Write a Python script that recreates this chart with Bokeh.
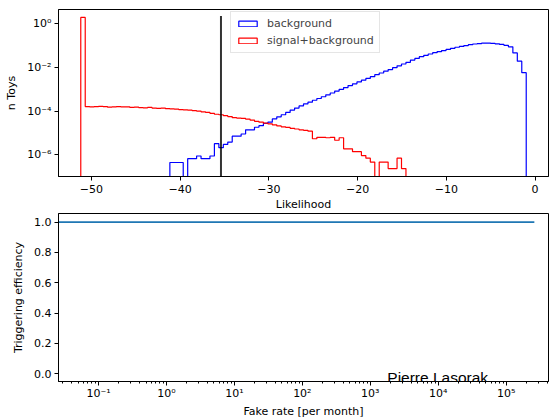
import numpy as np
from bokeh.plotting import figure
from bokeh.layouts import column
from bokeh.models import (FixedTicker, CustomJSTickFormatter, Legend, LegendItem,
                          Label, Range1d, Title)
from bokeh.embed import file_html
from bokeh.resources import INLINE

# ---------------- data ----------------
hist_lo, hist_hi, n_bins = -51.2, -1.0, 100

background = [
    0, 0, 0, 0, 0, 0, 0, 0, 0, 0,
    0, 0, 0, 0, 0, 0, 0, 0, 0, 0,
    4.4e-7, 4.4e-7, 4.4e-7, 0, 6.6e-7, 6.6e-7, 8.7e-7, 6.6e-7, 6.6e-7, 8.7e-7,
    3.2e-6, 2.1e-6, 2.95e-6, 3.8e-6, 7.1e-6, 7.1e-6, 8.9e-6, 1.38e-5, 1.38e-5, 1.82e-5,
    2.14e-5, 2.75e-5, 3.1e-5, 4.4e-5, 5.5e-5, 6.8e-5, 8.7e-5, 1.12e-4, 1.38e-4, 1.74e-4,
    2.14e-4, 2.57e-4, 3.16e-4, 3.8e-4, 4.57e-4, 5.6e-4, 6.8e-4, 8.3e-4, 1.0e-3, 1.2e-3,
    1.48e-3, 1.78e-3, 2.19e-3, 2.63e-3, 3.16e-3, 3.8e-3, 4.68e-3, 5.6e-3, 6.8e-3, 8.1e-3,
    9.8e-3, 1.2e-2, 1.45e-2, 1.74e-2, 2.19e-2, 2.63e-2, 3.16e-2, 3.63e-2, 4.17e-2, 4.79e-2,
    5.37e-2, 6.03e-2, 6.76e-2, 7.59e-2, 8.51e-2, 9.33e-2, 0.102, 0.112, 0.120, 0.126,
    0.132, 0.132, 0.129, 0.123, 0.115, 0.105, 0.089, 0.047, 0.0195, 0.0058,
]

signal_background = [
    2.0, 1.62e-4, 1.58e-4, 1.62e-4, 1.66e-4, 1.62e-4, 1.51e-4, 1.58e-4, 1.62e-4, 1.55e-4,
    1.58e-4, 1.48e-4, 1.51e-4, 1.45e-4, 1.41e-4, 1.48e-4, 1.38e-4, 1.35e-4, 1.38e-4, 1.29e-4,
    1.26e-4, 1.23e-4, 1.17e-4, 1.15e-4, 1.10e-4, 1.05e-4, 1.0e-4, 9.3e-5, 8.7e-5, 7.9e-5,
    7.2e-5, 6.8e-5, 6.2e-5, 5.6e-5, 5.0e-5, 4.8e-5, 4.6e-5, 4.3e-5, 3.9e-5, 3.4e-5,
    3.1e-5, 2.8e-5, 2.6e-5, 2.35e-5, 2.1e-5, 1.9e-5, 1.78e-5, 1.62e-5, 1.51e-5, 1.38e-5,
    1.32e-5, 1.2e-5, 5.4e-6, 6.3e-6, 6.3e-6, 6.0e-6, 6.3e-6, 4.6e-6, 6.0e-6, 1.86e-6,
    1.86e-6, 1.38e-6, 1.38e-6, 9.1e-7, 6.9e-7, 4.6e-7, 0, 4.6e-7, 4.6e-7, 2.3e-7,
    2.3e-7, 6.9e-7, 2.3e-7, 0, 0, 0, 0, 0, 0, 0,
    0, 0, 0, 0, 0, 0, 0, 0, 0, 0,
    0, 0, 0, 0, 0, 0, 0, 0, 0, 0,
]

threshold = -35.4
threshold_top = 2.3

fake_rate = [0.01, 0.1, 1.0, 10.0, 100.0, 1000.0, 1.0e4, 1.0e5, 2.6e5]
efficiency = [1.0, 1.0, 1.0, 1.0, 1.0, 1.0, 1.0, 1.0, 1.0]

lik_ticks = [-50, -40, -30, -20, -10, 0]
lik_labels = ["\u221250", "\u221240", "\u221230", "\u221220", "\u221210", "0"]
toy_ticks = [1e-6, 1e-4, 1e-2, 1.0]
toy_labels = ["10\u207b\u2076", "10\u207b\u2074", "10\u207b\u00b2", "10\u2070"]
eff_ticks = [0.0, 0.2, 0.4, 0.6, 0.8, 1.0]
eff_labels = ["0.0", "0.2", "0.4", "0.6", "0.8", "1.0"]
rate_ticks = [1e-1, 1e0, 1e1, 1e2, 1e3, 1e4, 1e5]
rate_labels = ["10\u207b\u00b9", "10\u2070", "10\u00b9", "10\u00b2", "10\u00b3", "10\u2074", "10\u2075"]

# ---------------- helpers ----------------
FONT = "DejaVu Sans"
floor = 1e-12
nan = float("nan")
edges = np.linspace(hist_lo, hist_hi, n_bins + 1)


def step_path(vals):
    xs = [edges[0]]
    ys = [floor]
    for k, v in enumerate(vals):
        y = v if v > 0 else floor
        xs += [edges[k], edges[k + 1]]
        ys += [y, y]
    xs.append(edges[-1])
    ys.append(floor)
    return xs, ys


def fmt(vals, labs, log=False):
    if log:
        code = """
        for (let i = 0; i < vals.length; i++) {
            if (Math.abs(Math.log10(vals[i]) - Math.log10(tick)) < 1e-6) return labs[i];
        }
        return "";
        """
    else:
        code = """
        for (let i = 0; i < vals.length; i++) {
            if (Math.abs(vals[i] - tick) < 1e-9) return labs[i];
        }
        return "";
        """
    return CustomJSTickFormatter(args=dict(vals=vals, labs=labs), code=code)


def style(p):
    p.xgrid.visible = False
    p.ygrid.visible = False
    p.outline_line_color = "black"
    p.outline_line_width = 1
    p.background_fill_color = "white"
    p.border_fill_color = "white"
    for ax in p.axis:
        ax.major_label_text_font = FONT
        ax.major_label_text_font_size = "11px"
        ax.major_label_text_color = "black"
        ax.axis_label_text_font = FONT
        ax.axis_label_text_font_size = "11px"
        ax.axis_label_text_font_style = "normal"
        ax.axis_label_text_color = "black"
        ax.axis_line_color = "black"
        ax.major_tick_line_color = "black"
        ax.minor_tick_line_color = "black"
        ax.major_tick_out = 4
        ax.major_tick_in = 0
        ax.minor_tick_out = 2
        ax.minor_tick_in = 0


# ---------------- top panel ----------------
p1 = figure(width=552, height=213, x_range=Range1d(-53.71, 1.51),
            y_range=Range1d(1.0e-7, 4.6), y_axis_type="log",
            output_backend="svg", toolbar_location=None,
            min_border_left=58, min_border_right=4, min_border_top=9,
            min_border_bottom=35)
style(p1)

bx, by = step_path(background)
sx, sy = step_path(signal_background)
p1.line(bx, by, line_color="blue", line_width=1.2)
p1.line(sx, sy, line_color="red", line_width=1.2)
p1.line([threshold, threshold], [floor, threshold_top], line_color="black",
        line_alpha=0.8, line_width=2)

r_b = p1.quad(left=[nan], right=[nan], top=[nan], bottom=[nan], fill_color=None,
              line_color="blue", line_width=1.2)
r_s = p1.quad(left=[nan], right=[nan], top=[nan], bottom=[nan], fill_color=None,
              line_color="red", line_width=1.2)
legend = Legend(items=[LegendItem(label="background", renderers=[r_b]),
                       LegendItem(label="signal+background", renderers=[r_s])],
                location=(172, 123), margin=0, padding=5, spacing=4,
                glyph_width=23, glyph_height=7, label_height=13,
                label_standoff=8, label_text_font=FONT,
                label_text_font_size="11px", border_line_color="#cccccc",
                border_line_width=1, background_fill_alpha=0.8)
p1.add_layout(legend)

p1.xaxis.ticker = FixedTicker(ticks=lik_ticks, minor_ticks=[])
p1.xaxis.formatter = fmt(lik_ticks, lik_labels)
p1.yaxis.ticker = FixedTicker(ticks=toy_ticks, minor_ticks=[])
p1.yaxis.formatter = fmt(toy_ticks, toy_labels, log=True)
p1.xaxis.axis_label = "Likelihood"
p1.yaxis.axis_label = "n Toys"
p1.xaxis.major_label_standoff = 4
p1.xaxis.axis_label_standoff = 2
p1.yaxis.major_label_standoff = 3
p1.yaxis.axis_label_standoff = 6

# ---------------- bottom panel ----------------
p2 = figure(width=552, height=204, x_axis_type="log",
            x_range=Range1d(0.02576, 4.2e5), y_range=Range1d(-0.052, 1.057),
            output_backend="svg", toolbar_location=None,
            min_border_left=58, min_border_right=4, min_border_top=0,
            min_border_bottom=35)
style(p2)
p2.line(fake_rate, efficiency, line_color="#1f77b4", line_width=1.7)

minor = [m * 10.0 ** e for e in range(-2, 6) for m in range(2, 10)]
p2.xaxis.ticker = FixedTicker(ticks=rate_ticks, minor_ticks=minor)
p2.xaxis.formatter = fmt(rate_ticks, rate_labels, log=True)
p2.yaxis.ticker = FixedTicker(ticks=eff_ticks, minor_ticks=[])
p2.yaxis.formatter = fmt(eff_ticks, eff_labels)
p2.yaxis.axis_label = "Triggering efficiency"
p2.xaxis.major_label_standoff = 1
p2.yaxis.major_label_standoff = 3
p2.yaxis.axis_label_standoff = 6

# x-axis title as a compact panel below the tick labels
p2.add_layout(Title(text="Fake rate [per month]", align="center",
                    text_font=FONT, text_font_size="11px",
                    text_font_style="normal", text_color="black",
                    standoff=0, offset=0), "below")

p2.add_layout(Label(x=1780, y=-0.027, text="Pierre Lasorak",
                    text_font="Liberation Sans", text_font_size="15.5px",
                    text_color="black", text_baseline="alphabetic"))

layout = column(p1, p2, spacing=0)
open("out.html", "w").write(file_html(layout, INLINE))
